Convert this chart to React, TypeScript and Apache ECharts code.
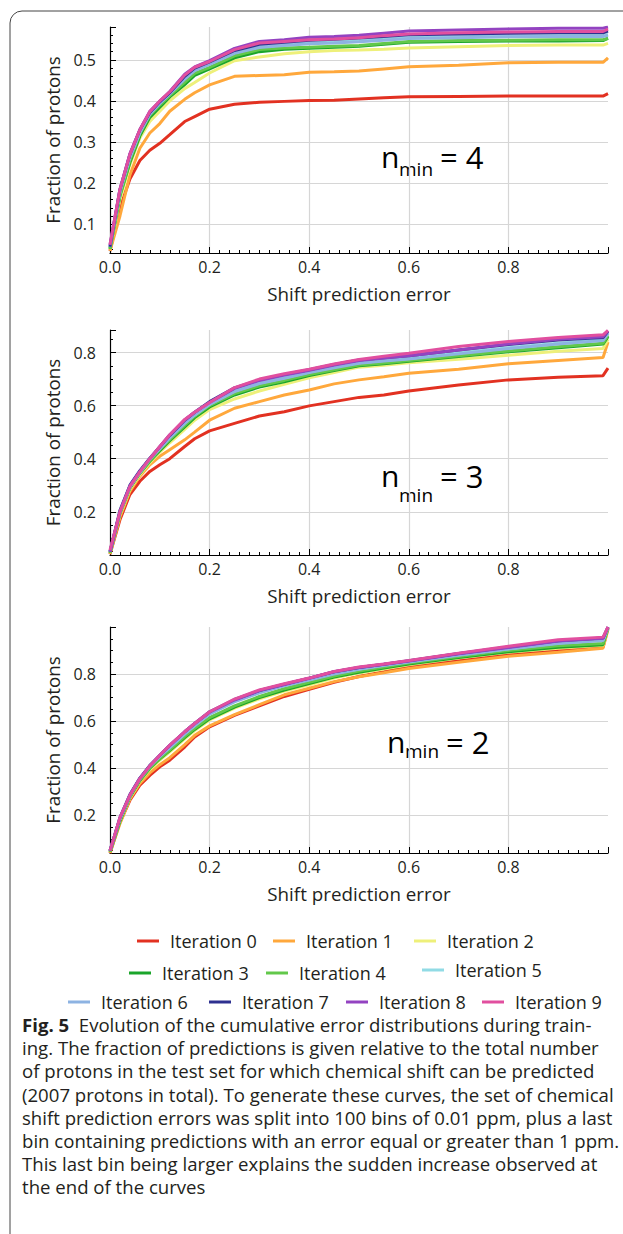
import React, { useEffect, useRef } from "react";
import * as echarts from "echarts";

const FONT = "'Open Sans', 'Noto Sans', sans-serif";
const INK = "#231f20";

const ITERATIONS = [
  "Iteration 0", "Iteration 1", "Iteration 2", "Iteration 3", "Iteration 4",
  "Iteration 5", "Iteration 6", "Iteration 7", "Iteration 8", "Iteration 9",
];
const COLORS = [
  "#e23121", "#ffa83c", "#eef07a", "#1aa52a", "#62c84a",
  "#91dbe5", "#8db3e2", "#2e3190", "#9343c1", "#e14f9f",
];

// shift prediction error (ppm)
const ERR = [0, 0.02, 0.04, 0.06, 0.08, 0.1, 0.12, 0.15, 0.17, 0.2, 0.25, 0.3, 0.35, 0.4, 0.45, 0.5, 0.55, 0.6, 0.7, 0.8, 0.9, 0.99, 1.0];

// n_min = 4
const N4_IT0 = [0.035, 0.14, 0.21, 0.255, 0.28, 0.297, 0.318, 0.35, 0.362, 0.38, 0.392, 0.397, 0.399, 0.401, 0.402, 0.405, 0.408, 0.41, 0.411, 0.412, 0.412, 0.412, 0.418];
const N4_IT1 = [0.035, 0.12, 0.22, 0.285, 0.322, 0.345, 0.375, 0.404, 0.42, 0.439, 0.46, 0.462, 0.464, 0.47, 0.471, 0.473, 0.478, 0.483, 0.487, 0.493, 0.494, 0.494, 0.505];
const N4_IT2 = [0.04, 0.16, 0.245, 0.31, 0.35, 0.375, 0.4, 0.43, 0.445, 0.468, 0.498, 0.507, 0.515, 0.52, 0.523, 0.524, 0.526, 0.529, 0.532, 0.535, 0.536, 0.536, 0.54];
const N4_IT3 = [0.04, 0.17, 0.25, 0.315, 0.36, 0.385, 0.41, 0.44, 0.462, 0.478, 0.505, 0.52, 0.526, 0.528, 0.531, 0.533, 0.538, 0.543, 0.545, 0.546, 0.546, 0.547, 0.553];
const N4_IT4 = [0.04, 0.17, 0.255, 0.32, 0.365, 0.39, 0.413, 0.445, 0.467, 0.482, 0.51, 0.525, 0.529, 0.531, 0.533, 0.535, 0.54, 0.545, 0.547, 0.548, 0.549, 0.549, 0.552];
const N4_IT5 = [0.045, 0.18, 0.265, 0.325, 0.37, 0.395, 0.418, 0.455, 0.475, 0.49, 0.518, 0.532, 0.537, 0.541, 0.543, 0.546, 0.55, 0.554, 0.556, 0.558, 0.559, 0.559, 0.562];
const N4_IT6 = [0.045, 0.18, 0.262, 0.323, 0.368, 0.394, 0.417, 0.453, 0.474, 0.489, 0.516, 0.53, 0.535, 0.539, 0.541, 0.544, 0.548, 0.552, 0.554, 0.556, 0.557, 0.557, 0.56];
const N4_IT7 = [0.045, 0.185, 0.27, 0.33, 0.372, 0.398, 0.42, 0.46, 0.48, 0.495, 0.523, 0.538, 0.543, 0.548, 0.55, 0.553, 0.557, 0.561, 0.563, 0.565, 0.566, 0.566, 0.57];
const N4_IT8 = [0.05, 0.185, 0.272, 0.33, 0.375, 0.4, 0.423, 0.465, 0.483, 0.498, 0.528, 0.545, 0.549, 0.555, 0.557, 0.56, 0.565, 0.57, 0.573, 0.575, 0.577, 0.577, 0.58];
const N4_IT9 = [0.05, 0.185, 0.27, 0.33, 0.374, 0.4, 0.422, 0.463, 0.482, 0.496, 0.525, 0.541, 0.545, 0.549, 0.551, 0.554, 0.559, 0.563, 0.566, 0.568, 0.569, 0.569, 0.575];

// n_min = 3
const N3_IT0 = [0.04, 0.17, 0.265, 0.315, 0.352, 0.377, 0.4, 0.446, 0.475, 0.505, 0.533, 0.561, 0.577, 0.599, 0.615, 0.631, 0.64, 0.655, 0.678, 0.697, 0.707, 0.713, 0.741];
const N3_IT1 = [0.04, 0.18, 0.277, 0.334, 0.377, 0.409, 0.434, 0.471, 0.5, 0.545, 0.59, 0.615, 0.64, 0.659, 0.682, 0.697, 0.709, 0.722, 0.737, 0.758, 0.77, 0.781, 0.84];
const N3_IT2 = [0.045, 0.19, 0.285, 0.34, 0.385, 0.425, 0.46, 0.51, 0.545, 0.585, 0.625, 0.655, 0.68, 0.705, 0.725, 0.745, 0.752, 0.762, 0.775, 0.79, 0.805, 0.815, 0.85];
const N3_IT3 = [0.045, 0.195, 0.29, 0.345, 0.39, 0.43, 0.468, 0.52, 0.555, 0.595, 0.64, 0.67, 0.69, 0.713, 0.732, 0.75, 0.758, 0.767, 0.785, 0.803, 0.818, 0.832, 0.86];
const N3_IT4 = [0.045, 0.195, 0.292, 0.347, 0.392, 0.435, 0.472, 0.525, 0.56, 0.6, 0.645, 0.675, 0.695, 0.717, 0.735, 0.753, 0.761, 0.77, 0.788, 0.806, 0.822, 0.835, 0.865];
const N3_IT5 = [0.05, 0.2, 0.295, 0.35, 0.4, 0.44, 0.48, 0.535, 0.565, 0.605, 0.655, 0.685, 0.705, 0.727, 0.745, 0.762, 0.77, 0.778, 0.798, 0.818, 0.835, 0.848, 0.875];
const N3_IT6 = [0.05, 0.2, 0.293, 0.348, 0.398, 0.438, 0.478, 0.533, 0.565, 0.605, 0.653, 0.683, 0.703, 0.725, 0.743, 0.76, 0.768, 0.776, 0.795, 0.815, 0.832, 0.845, 0.872];
const N3_IT7 = [0.05, 0.205, 0.3, 0.355, 0.402, 0.445, 0.488, 0.545, 0.575, 0.615, 0.667, 0.697, 0.717, 0.735, 0.755, 0.772, 0.78, 0.788, 0.81, 0.83, 0.847, 0.857, 0.88];
const N3_IT8 = [0.05, 0.2, 0.298, 0.352, 0.4, 0.445, 0.49, 0.546, 0.575, 0.612, 0.665, 0.695, 0.715, 0.733, 0.753, 0.77, 0.779, 0.788, 0.81, 0.832, 0.85, 0.86, 0.882];
const N3_IT9 = [0.055, 0.2, 0.295, 0.35, 0.4, 0.446, 0.49, 0.548, 0.575, 0.612, 0.668, 0.7, 0.72, 0.737, 0.757, 0.774, 0.786, 0.797, 0.823, 0.842, 0.857, 0.867, 0.884];

// n_min = 2
const N2_IT0 = [0.04, 0.17, 0.264, 0.328, 0.37, 0.406, 0.434, 0.49, 0.533, 0.576, 0.625, 0.665, 0.705, 0.735, 0.765, 0.79, 0.81, 0.832, 0.857, 0.882, 0.9, 0.915, 0.995];
const N2_IT1 = [0.04, 0.165, 0.27, 0.335, 0.38, 0.415, 0.445, 0.5, 0.54, 0.58, 0.628, 0.67, 0.712, 0.74, 0.768, 0.789, 0.806, 0.824, 0.85, 0.876, 0.893, 0.91, 0.99];
const N2_IT2 = [0.045, 0.175, 0.275, 0.345, 0.395, 0.435, 0.47, 0.525, 0.56, 0.605, 0.655, 0.695, 0.728, 0.755, 0.783, 0.805, 0.822, 0.84, 0.868, 0.893, 0.91, 0.922, 0.995];
const N2_IT3 = [0.045, 0.175, 0.278, 0.348, 0.4, 0.44, 0.475, 0.53, 0.565, 0.61, 0.66, 0.7, 0.732, 0.76, 0.787, 0.808, 0.826, 0.843, 0.87, 0.895, 0.914, 0.925, 0.997];
const N2_IT4 = [0.045, 0.18, 0.28, 0.35, 0.402, 0.442, 0.478, 0.535, 0.57, 0.615, 0.665, 0.705, 0.738, 0.765, 0.792, 0.813, 0.83, 0.847, 0.875, 0.9, 0.92, 0.93, 0.997];
const N2_IT5 = [0.05, 0.185, 0.285, 0.358, 0.41, 0.452, 0.49, 0.548, 0.583, 0.632, 0.685, 0.722, 0.752, 0.777, 0.803, 0.822, 0.838, 0.853, 0.882, 0.908, 0.932, 0.945, 0.998];
const N2_IT6 = [0.05, 0.185, 0.283, 0.355, 0.408, 0.45, 0.488, 0.545, 0.58, 0.63, 0.682, 0.72, 0.75, 0.775, 0.8, 0.82, 0.836, 0.851, 0.88, 0.906, 0.93, 0.943, 0.998];
const N2_IT7 = [0.05, 0.19, 0.288, 0.358, 0.412, 0.455, 0.497, 0.555, 0.59, 0.64, 0.692, 0.73, 0.757, 0.783, 0.81, 0.828, 0.842, 0.857, 0.887, 0.915, 0.942, 0.953, 1.0];
const N2_IT8 = [0.05, 0.19, 0.287, 0.357, 0.41, 0.455, 0.497, 0.555, 0.59, 0.638, 0.69, 0.73, 0.756, 0.782, 0.81, 0.828, 0.842, 0.856, 0.886, 0.913, 0.94, 0.952, 1.0];
const N2_IT9 = [0.05, 0.19, 0.285, 0.356, 0.41, 0.455, 0.498, 0.555, 0.59, 0.64, 0.694, 0.733, 0.759, 0.783, 0.811, 0.83, 0.843, 0.858, 0.889, 0.918, 0.946, 0.957, 1.0];

const PANELS = [
  { label: "4", series: [N4_IT0, N4_IT1, N4_IT2, N4_IT3, N4_IT4, N4_IT5, N4_IT6, N4_IT7, N4_IT8, N4_IT9], yMin: 0.03, yMax: 0.58, minorSplit: 5 },
  { label: "3", series: [N3_IT0, N3_IT1, N3_IT2, N3_IT3, N3_IT4, N3_IT5, N3_IT6, N3_IT7, N3_IT8, N3_IT9], yMin: 0.037, yMax: 0.885, minorSplit: 4 },
  { label: "2", series: [N2_IT0, N2_IT1, N2_IT2, N2_IT3, N2_IT4, N2_IT5, N2_IT6, N2_IT7, N2_IT8, N2_IT9], yMin: 0.04, yMax: 1.0, minorSplit: 4 },
];

const CAPTION_LINES = [
  "ing. The fraction of predictions is given relative to the total number",
  "of protons in the test set for which chemical shift can be predicted",
  "(2007 protons in total). To generate these curves, the set of chemical",
  "shift prediction errors was split into 100 bins of 0.01 ppm, plus a last",
  "bin containing predictions with an error equal or greater than 1 ppm.",
  "This last bin being larger explains the sudden increase observed at",
  "the end of the curves",
];

// layout
const GRID_TOPS = [27, 330, 627];
const GRID_HEIGHTS = [226, 225, 226];
const LABEL_POS = [
  { n: [381, 156], s: [399, 168.5], e: [440, 157] },
  { n: [381, 475.5], s: [399, 494.5], e: [440, 476] },
  { n: [387, 741.5], s: [405, 750.5], e: [446, 742] },
];
const LEGEND_POS = [
  [137, 940], [273, 940], [414, 940],
  [129, 972], [266, 972], [422, 969],
  [68, 1001], [209, 1001], [346, 1001], [482, 1001],
];
const CAPTION_SIZE = 18.6;
const CAPTION_TOP = 1024.5;
const CAPTION_LEAD = 23.2;

export default function App() {
  const ref = useRef<HTMLDivElement>(null);
  useEffect(() => {
    if (!ref.current) return;
    const chart = echarts.init(ref.current, null, { renderer: "svg" });

    const grids = PANELS.map((_, i) => ({ left: 110, top: GRID_TOPS[i], width: 498, height: GRID_HEIGHTS[i] }));
    const xAxes = PANELS.map((_, i) => ({
      type: "value", gridIndex: i, min: 0, max: 1, interval: 0.2,
      name: "Shift prediction error", nameLocation: "middle", nameGap: 31,
      nameTextStyle: { fontSize: 18.8, fontFamily: FONT, color: INK },
      axisLine: { show: true, onZero: false, lineStyle: { color: "#000", width: 1.2 } },
      axisTick: { show: true, inside: true, length: 6, lineStyle: { color: "#000", width: 1 } },
      minorTick: { show: true, splitNumber: 10, length: 3, lineStyle: { color: "#000", width: 1 } },
      axisLabel: { fontSize: 16, fontFamily: FONT, color: INK, margin: 6, showMaxLabel: false, formatter: (v: number) => v.toFixed(1) },
      splitLine: { show: true, showMinLine: false, showMaxLine: false, lineStyle: { color: "#d6d6d6", width: 1.2 } },
    }));
    const yAxes = PANELS.map((p, i) => ({
      type: "value", gridIndex: i, min: p.yMin, max: p.yMax,
      name: "Fraction of protons", nameLocation: "middle", nameGap: 47,
      nameTextStyle: { fontSize: 18.8, fontFamily: FONT, color: INK },
      axisLine: { show: true, onZero: false, lineStyle: { color: "#000", width: 1.2 } },
      axisTick: { show: true, inside: true, length: 6, lineStyle: { color: "#000", width: 1 } },
      minorTick: { show: true, splitNumber: p.minorSplit, length: 3, lineStyle: { color: "#000", width: 1 } },
      axisLabel: { fontSize: 16, fontFamily: FONT, color: INK, margin: 14, showMinLabel: false, showMaxLabel: false, formatter: (v: number) => v.toFixed(1) },
      splitLine: { show: true, showMinLine: false, showMaxLine: false, lineStyle: { color: "#d6d6d6", width: 1.2 } },
    }));

    const series: any[] = [];
    PANELS.forEach((p, i) => {
      p.series.forEach((vals, k) => {
        series.push({
          type: "line", name: ITERATIONS[k], xAxisIndex: i, yAxisIndex: i,
          showSymbol: false, symbol: "none", color: COLORS[k],
          lineStyle: { width: 3, color: COLORS[k] },
          data: ERR.map((x, j) => [x, vals[j]]),
        });
      });
    });

    const legends = ITERATIONS.map((name, k) => ({
      data: [name], left: LEGEND_POS[k][0], top: LEGEND_POS[k][1] - 8, padding: 0,
      itemWidth: 22, itemHeight: 3, icon: "rect", selectedMode: false,
      textStyle: { fontSize: 18, fontFamily: FONT, color: INK, lineHeight: 16, padding: [0, 0, 0, 6] },
    }));

    const graphics: any[] = [
      { type: "rect", shape: { x: 10, y: 11, width: 700, height: 1300, r: 12 }, style: { fill: "none", stroke: "#444", lineWidth: 1 }, silent: true },
    ];
    PANELS.forEach((p, i) => {
      const L = LABEL_POS[i];
      graphics.push({ type: "text", x: L.n[0], y: L.n[1], style: { text: "n", fontSize: 30, fontFamily: FONT, fill: "#000", verticalAlign: "middle" } });
      graphics.push({ type: "text", x: L.s[0], y: L.s[1], style: { text: "min", fontSize: 19, fontFamily: FONT, fill: "#000", verticalAlign: "middle" } });
      graphics.push({ type: "text", x: L.e[0], y: L.e[1], style: { text: "= " + p.label, fontSize: 31, fontFamily: FONT, fill: "#000", verticalAlign: "middle" } });
    });
    graphics.push({
      type: "text", x: 22, y: CAPTION_TOP,
      style: {
        text: "{b|Fig. 5}  Evolution of the cumulative error distributions during train-",
        fontSize: CAPTION_SIZE, fontFamily: FONT, fill: INK, verticalAlign: "middle",
        rich: { b: { fontWeight: "bold", fontSize: CAPTION_SIZE, fontFamily: FONT, fill: INK } },
      },
    });
    CAPTION_LINES.forEach((line, j) => {
      graphics.push({ type: "text", x: 22, y: CAPTION_TOP + (j + 1) * CAPTION_LEAD, style: { text: line, fontSize: CAPTION_SIZE, fontFamily: FONT, fill: INK, verticalAlign: "middle" } });
    });

    chart.setOption({
      animation: false,
      backgroundColor: "#fff",
      grid: grids,
      xAxis: xAxes,
      yAxis: yAxes,
      legend: legends,
      series,
      graphic: graphics,
    });
    return () => chart.dispose();
  }, []);
  return <div ref={ref} style={{ position: "absolute", left: 0, top: 0, width: 623, height: 1234 }} />;
}
